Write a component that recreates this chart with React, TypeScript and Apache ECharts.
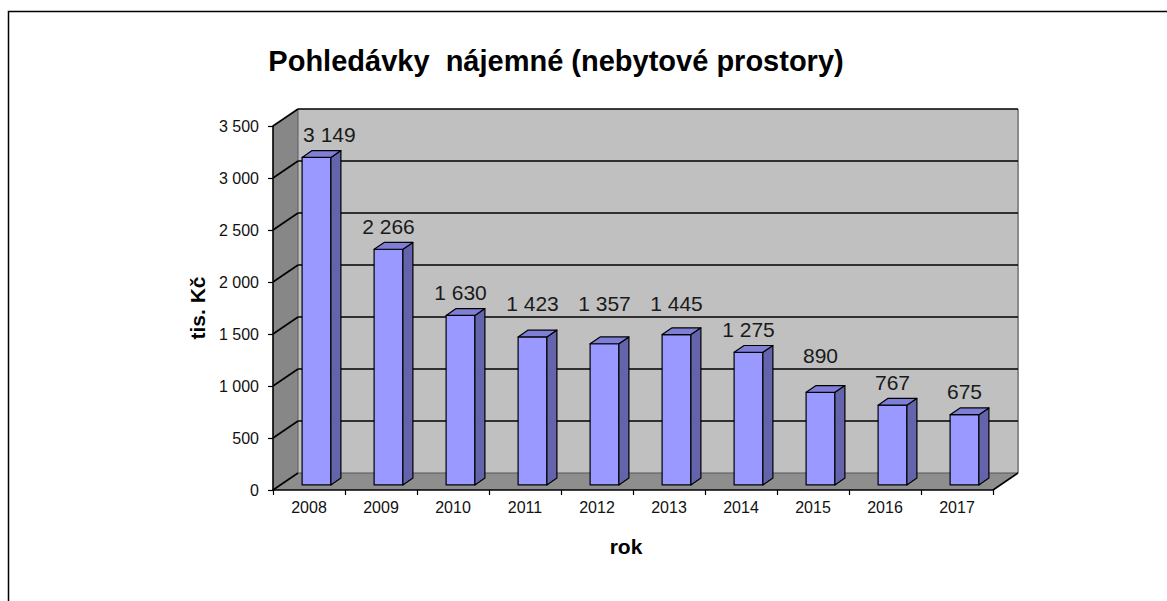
import React, { useEffect, useRef } from "react";
import * as echarts from "echarts";

const chartTitle = "Pohledávky  nájemné (nebytové prostory)";
const yAxisName = "tis. Kč";
const xAxisName = "rok";
const years = ["2008", "2009", "2010", "2011", "2012", "2013", "2014", "2015", "2016", "2017"];
const values = [3149, 2266, 1630, 1423, 1357, 1445, 1275, 890, 767, 675];
const yTicks = [0, 500, 1000, 1500, 2000, 2500, 3000, 3500];
const Y_MIN = 0;
const Y_MAX = 3500;
const Y_INTERVAL = 500;

// 3D look (styling only)
const DX = 25;
const DY = -17;
const F0 = 0.3; // bar front depth fraction
const F1 = 0.7; // bar back depth fraction
const FONT = '"Liberation Sans", Arial, Helvetica, sans-serif';
const LABEL_SIZE = 21;

const fmt = (n: number) => String(n).replace(/\B(?=(\d{3})+(?!\d))/g, " ");

export default function App() {
  const ref = useRef<HTMLDivElement>(null);
  useEffect(() => {
    if (!ref.current) return;
    const chart = echarts.init(ref.current, undefined, { renderer: "svg" });

    const wallsRender = (params: any, api: any) => {
      const cs = params.coordSys;
      const x0 = cs.x;
      const x1 = cs.x + cs.width;
      const yb = api.coord([0, Y_MIN])[1];
      const yt = api.coord([0, Y_MAX])[1];
      const children: any[] = [];
      children.push({
        type: "polygon",
        shape: { points: [[x0, yt], [x0 + DX, yt + DY], [x0 + DX, yb + DY], [x0, yb]] },
        style: { fill: "#878787", stroke: null },
      });
      children.push({
        type: "rect",
        shape: { x: x0 + DX, y: yt + DY, width: cs.width, height: yb - yt },
        style: { fill: "#c0c0c0", stroke: null },
      });
      children.push({
        type: "polygon",
        shape: { points: [[x0, yb], [x0 + DX, yb + DY], [x1 + DX, yb + DY], [x1, yb]] },
        style: { fill: "#8e8e8e", stroke: null },
      });
      children.push({
        type: "line",
        shape: { x1: x0 + DX, y1: yt + DY, x2: x0 + DX, y2: yb + DY },
        style: { stroke: "#5a5a5a", lineWidth: 1 },
      });
      children.push({
        type: "line",
        shape: { x1: x1 + DX, y1: yt + DY, x2: x1 + DX, y2: yb + DY },
        style: { stroke: "#8a8a8a", lineWidth: 2 },
      });
      yTicks.forEach((v) => {
        const y = api.coord([0, v])[1];
        children.push({
          type: "line",
          shape: { x1: x0 + DX, y1: y + DY, x2: x1 + DX, y2: y + DY },
          style: { stroke: v === 0 ? "#555555" : "#000", lineWidth: v === 0 ? 1 : 1.6 },
        });
        children.push({
          type: "line",
          shape: { x1: x0, y1: y, x2: x0 + DX, y2: y + DY },
          style: { stroke: "#000", lineWidth: 1.6 },
        });
      });
      children.push({
        type: "line",
        shape: { x1: x1, y1: yb, x2: x1 + DX, y2: yb + DY },
        style: { stroke: "#000", lineWidth: 1.6 },
      });
      return { type: "group", children };
    };

    const barsRender = (params: any, api: any) => {
      const cs = params.coordSys;
      const idx = api.value(0);
      const val = api.value(1);
      const base = api.coord([idx, Y_MIN]);
      const top = api.coord([idx, val]);
      const band = api.size([1, 0])[0];
      const w = band * 0.4;
      const cx = base[0] + DX * F0;
      const yBot = base[1] + DY * F0;
      const yTop = top[1] + DY * F0;
      const sx = DX * (F1 - F0);
      const sy = DY * (F1 - F0);
      const l = cx - w / 2;
      const r = cx + w / 2;
      const edge = { stroke: "#000", lineWidth: 1.2, lineJoin: "round" };

      // label placement: above the bar, moved clear of back-wall gridlines and side wall
      let ly = yTop + sy - 16;
      yTicks.forEach((v) => {
        const gy = api.coord([0, v])[1] + DY;
        if (Math.abs(gy - ly) < 10) ly = gy - 14;
      });
      const text = fmt(val);
      const halfW = text.length * LABEL_SIZE * 0.28;
      let lx = cx;
      const wallLeft = cs.x + DX + 2;
      if (lx - halfW < wallLeft) lx = wallLeft + halfW;

      return {
        type: "group",
        children: [
          {
            type: "rect",
            shape: { x: l, y: yTop, width: w, height: yBot - yTop },
            style: { fill: "#9999ff", ...edge },
          },
          {
            type: "polygon",
            shape: { points: [[r, yTop], [r + sx, yTop + sy], [r + sx, yBot + sy], [r, yBot]] },
            style: { fill: "#6464ad", ...edge },
          },
          {
            type: "polygon",
            shape: { points: [[l, yTop], [l + sx, yTop + sy], [r + sx, yTop + sy], [r, yTop]] },
            style: { fill: "#7f7fd8", ...edge },
          },
          {
            type: "text",
            x: lx,
            y: ly,
            style: {
              text,
              fill: "#1a1a1a",
              fontSize: LABEL_SIZE,
              fontFamily: FONT,
              align: "center",
              verticalAlign: "middle",
            },
          },
        ],
      };
    };

    chart.setOption({
      animation: false,
      backgroundColor: "#ffffff",
      grid: { left: 273, top: 126, width: 720, height: 364, containLabel: false },
      xAxis: {
        type: "category",
        data: years,
        boundaryGap: true,
        z: 10,
        axisLine: { show: true, lineStyle: { color: "#000", width: 1.6 } },
        axisTick: { show: true, length: 5, lineStyle: { color: "#000", width: 1.2 } },
        axisLabel: { color: "#111", fontSize: 16, fontFamily: FONT, margin: 9 },
        splitLine: { show: false },
      },
      yAxis: {
        type: "value",
        min: Y_MIN,
        max: Y_MAX,
        interval: Y_INTERVAL,
        z: 10,
        axisLine: { show: true, lineStyle: { color: "#000", width: 1.6 } },
        axisTick: { show: true, length: 5, lineStyle: { color: "#000", width: 1.2 } },
        axisLabel: { color: "#111", fontSize: 16, fontFamily: FONT, margin: 14, formatter: (v: number) => fmt(v) },
        splitLine: { show: false },
      },
      graphic: [
        {
          type: "rect",
          shape: { x: 8.5, y: 11.5, width: 1200, height: 700 },
          style: { fill: "none", stroke: "#000", lineWidth: 1.5 },
          silent: true,
        },
        {
          type: "text",
          x: 556,
          y: 61,
          style: {
            text: chartTitle,
            fill: "#000",
            fontSize: 29,
            fontWeight: "bold",
            fontFamily: FONT,
            align: "center",
            verticalAlign: "middle",
          },
        },
        {
          type: "text",
          x: 197,
          y: 308,
          rotation: Math.PI / 2,
          style: {
            text: yAxisName,
            fill: "#000",
            fontSize: 21,
            fontWeight: "bold",
            fontFamily: FONT,
            align: "center",
            verticalAlign: "middle",
          },
        },
        {
          type: "text",
          x: 626,
          y: 546,
          style: {
            text: xAxisName,
            fill: "#000",
            fontSize: 21,
            fontWeight: "bold",
            fontFamily: FONT,
            align: "center",
            verticalAlign: "middle",
          },
        },
      ],
      series: [
        {
          type: "custom",
          name: "walls",
          clip: false,
          z: 1,
          silent: true,
          renderItem: wallsRender,
          data: [[0, 0]],
        },
        {
          type: "custom",
          name: "Pohledávky",
          clip: false,
          z: 2,
          renderItem: barsRender,
          data: values.map((v, i) => [i, v]),
        },
      ],
    });
    return () => chart.dispose();
  }, []);
  return (
    <div
      ref={ref}
      style={{ position: "absolute", left: 0, top: 0, width: 1167, height: 601, background: "#fff" }}
    />
  );
}
